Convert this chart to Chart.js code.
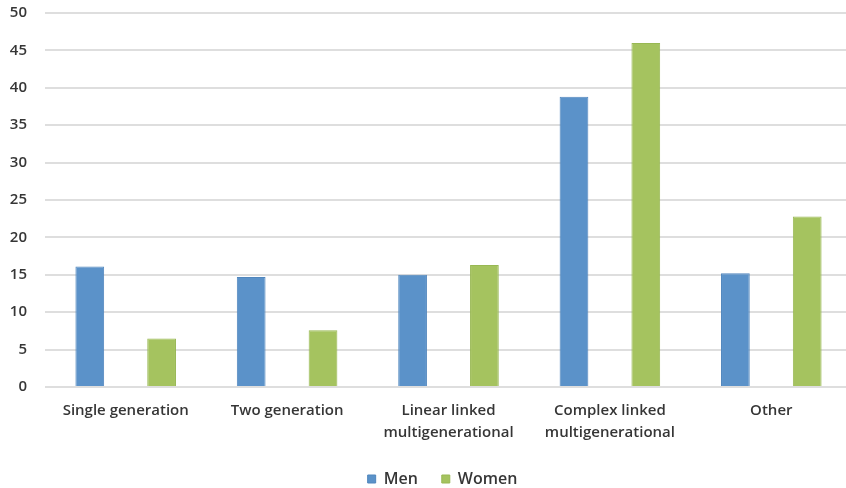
<!DOCTYPE html>
<html>
<head>
<meta charset="utf-8">
<script src="https://cdn.jsdelivr.net/npm/chart.js@4/dist/chart.umd.min.js"></script>
<style>
  html, body { margin: 0; padding: 0; background: #ffffff; overflow: hidden; }
  #wrap { position: relative; width: 852px; height: 488px; }
</style>
</head>
<body>
<div id="wrap"><canvas id="c" width="852" height="488"></canvas></div>
<script>
// Household type categories and percentages by sex
const categories = [
  'Single generation',
  'Two generation',
  ['Linear linked', 'multigenerational'],
  ['Complex linked', 'multigenerational'],
  'Other'
];
const men   = [16.1, 14.7, 15.0, 38.8, 15.2];
const women = [6.5, 7.6, 16.3, 46.0, 22.8];
const yTicks = [0, 5, 10, 15, 20, 25, 30, 35, 40, 45, 50];

const textColor = '#363636';
const fontFamily = '"Open Sans", Lato, sans-serif';

// Center the legend row under the plot area rather than the whole canvas
const legendCenter = {
  id: 'legendCenter',
  afterLayout(chart) {
    const lg = chart.legend;
    if (!lg) return;
    const dx = (chart.chartArea.left + chart.chartArea.right) / 2 - (lg.left + lg.right) / 2 - 6;
    lg.left += dx; lg.right += dx;
  }
};

new Chart(document.getElementById('c'), {
  type: 'bar',
  data: {
    labels: categories,
    datasets: [
      { label: 'Men', data: men, backgroundColor: '#5b92c9', borderColor: '#5086bd', borderWidth: 1 },
      { label: 'Women', data: women, backgroundColor: '#a5c35f', borderColor: '#98b853', borderWidth: 1 }
    ]
  },
  plugins: [legendCenter],
  options: {
    responsive: false,
    animation: false,
    devicePixelRatio: 1,
    layout: { padding: { top: 13, right: 0, left: 0, bottom: -9 } },
    datasets: { bar: { categoryPercentage: 0.89, barPercentage: 0.4 } },
    plugins: {
      tooltip: { enabled: false },
      legend: {
        position: 'bottom',
        labels: {
          boxWidth: 8, boxHeight: 8, padding: 24,
          color: textColor,
          font: { family: fontFamily, size: 16, weight: '600' }
        }
      }
    },
    scales: {
      x: {
        afterFit: s => { s.height = 60; },
        grid: { display: false, drawTicks: false },
        border: { display: false },
        ticks: {
          color: textColor, padding: 13, maxRotation: 0, autoSkip: false,
          font: { family: fontFamily, size: 15, weight: '600', lineHeight: 1.47 }
        }
      },
      y: {
        min: 0, max: 50,
        afterFit: s => { s.width = 45; s.paddingTop = 0; s.paddingBottom = 0; },
        afterBuildTicks: s => { s.ticks = yTicks.map(v => ({ value: v })); },
        grid: { color: '#dedede', lineWidth: 2, drawTicks: false },
        border: { display: false },
        ticks: {
          color: textColor, padding: 18,
          font: { family: fontFamily, size: 15, weight: '600' }
        }
      }
    }
  }
});
</script>
</body>
</html>
